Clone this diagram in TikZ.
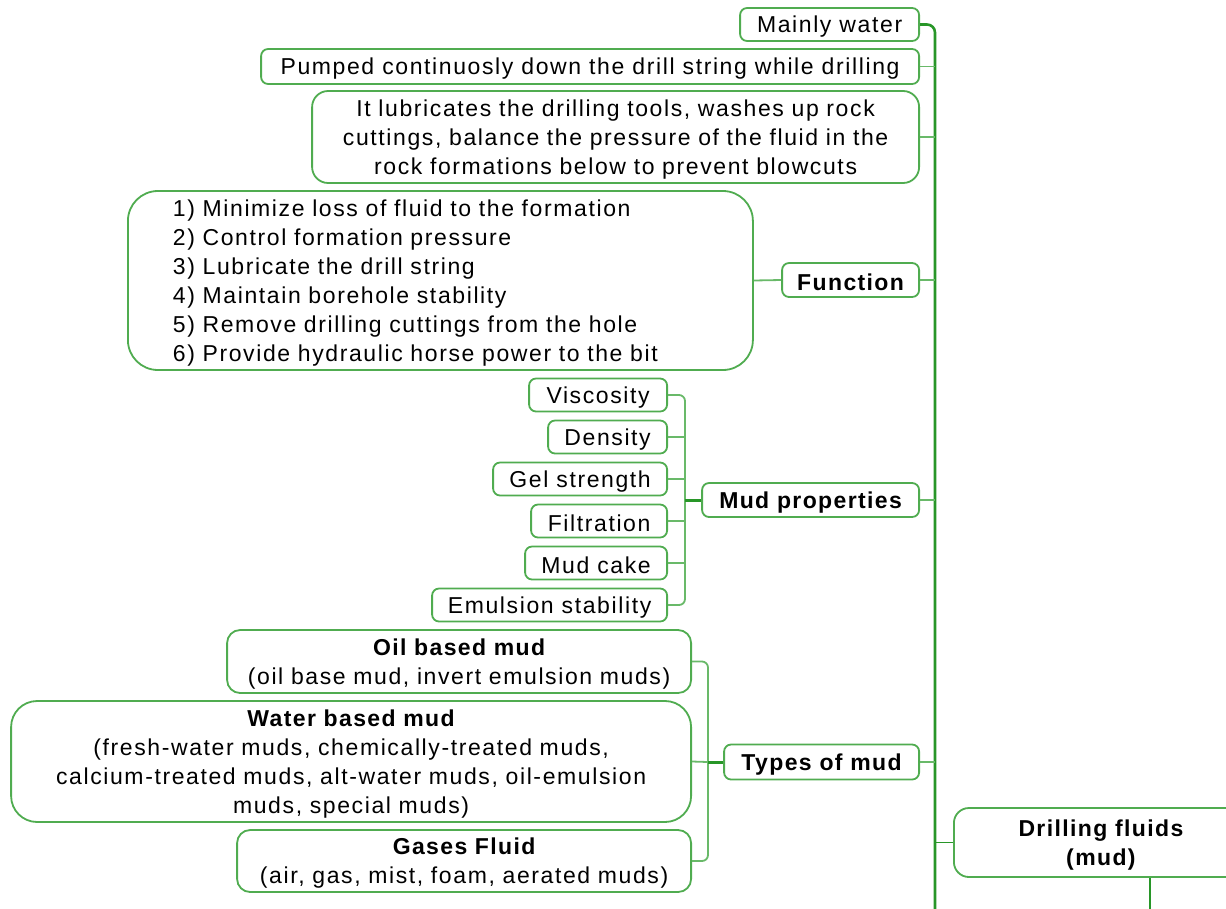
\documentclass[tikz,border=0pt]{standalone}
\usepackage{fontspec}
\setmainfont{Liberation Sans}[LetterSpace=7]
\newfontfamily\boldf{Liberation Sans}[LetterSpace=6]
\definecolor{boxgreen}{RGB}{80,172,80}
\definecolor{trunkgreen}{RGB}{40,150,40}
\definecolor{lightgreen}{RGB}{105,185,105}
\tikzset{
  box/.style={draw=boxgreen, line width=1.8pt, fill=white, rounded corners=7pt,
    inner sep=0pt, align=center, font=\fontsize{23}{29}\selectfont,
    execute at begin node={\rule{0pt}{21.5pt}}},
  bbox/.style={box, font=\fontsize{23}{29}\selectfont\boldf\bfseries},
  conn/.style={draw=lightgreen, line width=1.8pt},
  trunk/.style={draw=trunkgreen, line width=2.6pt, rounded corners=8pt},
}
\begin{document}
\begin{tikzpicture}[x=1pt,y=-1pt]
\useasboundingbox (0,0) rectangle (1226,908);
\clip (0,0) rectangle (1226,908);
\coordinate (tb) at (935,912);
\coordinate (dfb) at (1150,912);
\coordinate (mpb) at (685,500);
\coordinate (tmb) at (708,762);

% top-level children
\node[box, anchor=east, minimum width=179pt, minimum height=33pt] (mw) at (920,24.5) {Mainly water};
\node[box, anchor=east, minimum width=658pt, minimum height=35pt] (pump) at (920,66.5) {Pumped continuosly down the drill string while drilling};
\node[box, anchor=east, minimum width=607pt, minimum height=92pt, rounded corners=16pt, text width=600pt] (lub) at (920,137) {It lubricates the drilling tools, washes up rock\\cuttings, balance the pressure of the fluid in the\\rock formations below to prevent blowcuts};
\node[bbox, anchor=east, minimum width=137pt, minimum height=34pt] (func) at (920,280) {Function};
\node[bbox, anchor=east, minimum width=217pt, minimum height=34pt] (mp) at (920,500) {Mud properties};
\node[bbox, anchor=east, minimum width=195pt, minimum height=35pt] (tom) at (920,762) {Types of mud};
\node[bbox, anchor=west, minimum width=294pt, minimum height=69pt, rounded corners=15pt, text width=290pt] (df) at (953,842.5) {Drilling fluids\\(mud)};

% function list
\node[box, anchor=west, minimum width=625pt, minimum height=179pt, rounded corners=30pt,
  text width=535pt, inner xsep=45pt, align=left] (flist) at (127,280.5)
  {1) Minimize loss of fluid to the formation\\2) Control formation pressure\\3) Lubricate the drill string\\4) Maintain borehole stability\\5) Remove drilling cuttings from the hole\\6) Provide hydraulic horse power to the bit};

% mud properties children
\node[box, anchor=east, minimum width=138pt, minimum height=33pt] (visc) at (668,395) {Viscosity};
\node[box, anchor=east, minimum width=119pt, minimum height=33pt] (dens) at (668,437) {Density};
\node[box, anchor=east, minimum width=174pt, minimum height=33pt] (gel) at (668,479) {Gel strength};
\node[box, anchor=east, minimum width=136pt, minimum height=33pt] (filt) at (668,521) {Filtration};
\node[box, anchor=east, minimum width=142pt, minimum height=33pt] (cake) at (668,563) {Mud cake};
\node[box, anchor=east, minimum width=235pt, minimum height=33pt] (emul) at (668,605) {Emulsion stability};

% types of mud children
\node[box, anchor=east, minimum width=464pt, minimum height=63pt, rounded corners=13pt, text width=460pt] (oil) at (692,661.5) {{\boldf\bfseries Oil based mud}\\(oil base mud, invert emulsion muds)};
\node[box, anchor=east, minimum width=680pt, minimum height=121pt, rounded corners=26pt, text width=670pt] (water) at (692,761.5) {{\boldf\bfseries Water based mud}\\(fresh-water muds, chemically-treated muds,\\calcium-treated muds, alt-water muds, oil-emulsion\\muds, special muds)};
\node[box, anchor=east, minimum width=454pt, minimum height=62pt, rounded corners=13pt, text width=450pt] (gas) at (692,861) {{\boldf\bfseries Gases Fluid}\\(air, gas, mist, foam, aerated muds)};

% trunk and connectors
\draw[trunk] (mw.east) -| (tb);
\foreach \n in {pump,lub,func,mp,tom} {\draw[conn] (\n.east) -- (\n.east -| tb);}
\draw[conn, draw=trunkgreen] (df.west) -- (df.west -| tb);
\draw[conn, draw=trunkgreen] (dfb |- df.south) -- (dfb);
\draw[conn] (flist.east) -- (func.west);

\draw[conn, rounded corners=6pt] (visc.east) -| (mpb) |- (emul.east);
\foreach \n in {dens,gel,filt,cake} {\draw[conn] (\n.east) -- (\n.east -| mpb);}
\draw[conn, draw=trunkgreen, line width=3pt] (mpb) -- (mp.west);

\draw[conn, rounded corners=6pt] (oil.east) -| (tmb) |- (gas.east);
\draw[conn] (water.east) -- (tmb);
\draw[conn, draw=trunkgreen, line width=3pt] (tmb) -- (tom.west);
\end{tikzpicture}
\end{document}
